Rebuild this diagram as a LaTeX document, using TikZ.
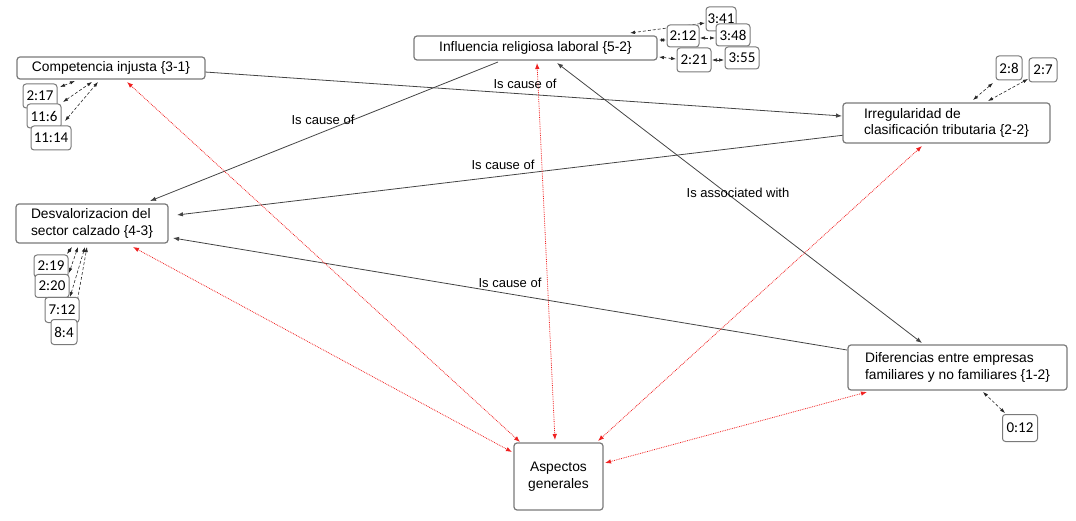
\documentclass[tikz,border=0pt]{standalone}
\usepackage{fontspec}
\setmainfont{Liberation Sans}
\newfontfamily\codefont{Carlito}
\usetikzlibrary{calc,arrows.meta}
\pgfdeclarelayer{bg}
\pgfsetlayers{bg,main}
\definecolor{boxgray}{HTML}{7A7A7A}
\definecolor{linegray}{HTML}{444444}
\definecolor{redline}{HTML}{F02020}
\begin{document}
\begin{tikzpicture}[x=1pt,y=-1pt,
  box/.style={draw=boxgray, line width=1.2pt, rounded corners=3pt, fill=white, inner sep=0pt,
    font=\fontsize{13.8}{16.5}\selectfont, align=left},
  codebox/.style={draw=boxgray, line width=1pt, rounded corners=3pt, fill=white, inner sep=0pt,
    font=\codefont\fontsize{15}{17}\selectfont},
  lbl/.style={font=\fontsize{13}{15}\selectfont, inner sep=0pt},
  rel/.style={draw=linegray, line width=0.8pt, -{Latex[length=6pt,width=4.5pt]}},
  assoc/.style={draw=linegray, line width=0.8pt, {Latex[length=6pt,width=4.5pt]}-{Latex[length=6pt,width=4.5pt]}},
  redlink/.style={draw=redline, line width=0.8pt, densely dotted, {Latex[length=6pt,width=4.5pt]}-{Latex[length=6pt,width=4.5pt]}},
  codelink/.style={draw=black!85, line width=0.6pt, densely dashed, {Latex[length=5pt,width=3.5pt]}-{Latex[length=5pt,width=3.5pt]}}
]
\useasboundingbox (0,0) rectangle (1076,521);

% main nodes
\node[box, minimum width=188pt, minimum height=22pt, align=center] (comp) at (111,68) {Competencia injusta \{3-1\}};
\node[box, minimum width=243pt, minimum height=24pt, align=center] (infl) at (535.5,48) {Influencia religiosa laboral \{5-2\}};
\node[box, minimum width=207pt, minimum height=40pt] (irreg) at (946.5,123) {Irregularidad de\\clasificación tributaria \{2-2\}};
\node[box, minimum width=152pt, minimum height=39pt] (desv) at (92,223.5) {Desvalorizacion del\\sector calzado \{4-3\}};
\node[box, minimum width=219pt, minimum height=45pt] (dif) at (957.5,367.5) {Diferencias entre empresas\\familiares y no familiares \{1-2\}};
\node[box, minimum width=89pt, minimum height=67pt, align=center] (asp) at (558.5,476.5) {Aspectos\\generales};

% code boxes
\node[codebox, minimum width=34pt, minimum height=24pt] (c217) at (40,96) {2:17};
\node[codebox, minimum width=34pt, minimum height=24pt] (c116) at (44,116) {11:6};
\node[codebox, minimum width=40pt, minimum height=24pt] (c1114) at (51,138) {11:14};

\node[codebox, minimum width=30pt, minimum height=24pt] (c341) at (721,19) {3:41};
\node[codebox, minimum width=32pt, minimum height=22pt] (c212) at (683,36) {2:12};
\node[codebox, minimum width=34pt, minimum height=22pt] (c348) at (733,35) {3:48};
\node[codebox, minimum width=34pt, minimum height=22pt] (c355) at (742,58) {3:55};
\node[codebox, minimum width=34pt, minimum height=24pt] (c221) at (694,60) {2:21};

\node[codebox, minimum width=26pt, minimum height=24pt] (c28) at (1009,68) {2:8};
\node[codebox, minimum width=28pt, minimum height=24pt] (c27) at (1043,70) {2:7};

\node[codebox, minimum width=34pt, minimum height=22pt] (c219) at (51,266) {2:19};
\node[codebox, minimum width=34pt, minimum height=23pt] (c220) at (52,286) {2:20};
\node[codebox, minimum width=34pt, minimum height=25pt] (c712) at (62,310) {7:12};
\node[codebox, minimum width=26pt, minimum height=25pt] (c84) at (64,332) {8:4};

\node[codebox, minimum width=35pt, minimum height=27pt] (c012) at (1020,428) {0:12};

% labels
\node[lbl] (l1) at (525,84) {Is cause of};
\node[lbl] (l2) at (323,120) {Is cause of};
\node[lbl] (l3) at (503,165) {Is cause of};
\node[lbl] (l4) at (510,283) {Is cause of};
\node[lbl] (l5) at (738,193) {Is associated with};

\begin{pgfonlayer}{bg}
% main relations
\draw[rel] ($(comp.center)+(94,4)$) -- ($(irreg.center)+(-104.5,-7)$);
\draw[rel] ($(infl.center)+(-37.5,14)$) -- ($(desv.center)+(58,-22.5)$);
\draw[rel] ($(irreg.center)+(-101.5,12)$) -- ($(desv.center)+(85,-8.5)$);
\draw[rel] ($(dif.center)+(-110.5,-17.5)$) -- ($(desv.center)+(81,14.5)$);
\draw[assoc] ($(infl.center)+(21.5,15)$) -- ($(dif.center)+(-35.5,-24.5)$);

% red links to Aspectos generales
\draw[redlink] ($(comp.center)+(16,14)$) -- ($(asp.center)+(-38.5,-34.5)$);
\draw[redlink] ($(desv.center)+(41,23.5)$) -- ($(asp.center)+(-46.5,-24.5)$);
\draw[redlink] ($(infl.center)+(1.5,15)$) -- ($(asp.center)+(-3.5,-36.5)$);
\draw[redlink] ($(irreg.center)+(-24.5,23)$) -- ($(asp.center)+(39.5,-35.5)$);
\draw[redlink] ($(dif.center)+(-90.5,24.5)$) -- ($(asp.center)+(46.5,-13.5)$);

% code links
\draw[codelink] ($(c217.center)+(20,-9)$) -- ($(comp.center)+(-36,13)$);
\draw[codelink] ($(c116.center)+(19,-14)$) -- ($(comp.center)+(-19,14)$);
\draw[codelink] ($(c1114.center)+(14,-17)$) -- ($(comp.center)+(-13,14)$);

\draw[codelink] ($(c341.center)+(-16,4)$) -- ($(infl.center)+(94.5,-15)$);
\draw[codelink] ($(c212.center)+(-17,4)$) -- ($(infl.center)+(123.5,-8)$);
\draw[codelink] ($(c212.center)+(17,2)$) -- ($(c348.center)+(-18,3)$);
\draw[codelink] ($(c221.center)+(-18,-1)$) -- ($(infl.center)+(123.5,9)$);
\draw[codelink] ($(c221.center)+(18,0)$) -- ($(c355.center)+(-18,2)$);

\draw[codelink] ($(c28.center)+(-16,15)$) -- ($(irreg.center)+(26.5,-23)$);
\draw[codelink] ($(c27.center)+(-15,9)$) -- ($(irreg.center)+(41.5,-22)$);

\draw[codelink] ($(c219.center)+(16,-12)$) -- ($(desv.center)+(-20,23.5)$);
\draw[codelink] ($(c220.center)+(17,-13)$) -- ($(desv.center)+(-14,23.5)$);
\draw[codelink] ($(c712.center)+(8,-13)$) -- ($(desv.center)+(-7,23.5)$);
\draw[codelink] ($(c84.center)+(10,-13)$) -- ($(desv.center)+(-5,23.5)$);

\draw[codelink] ($(c012.center)+(-15,-15)$) -- ($(dif.center)+(25.5,24.5)$);
\end{pgfonlayer}
\end{tikzpicture}
\end{document}
